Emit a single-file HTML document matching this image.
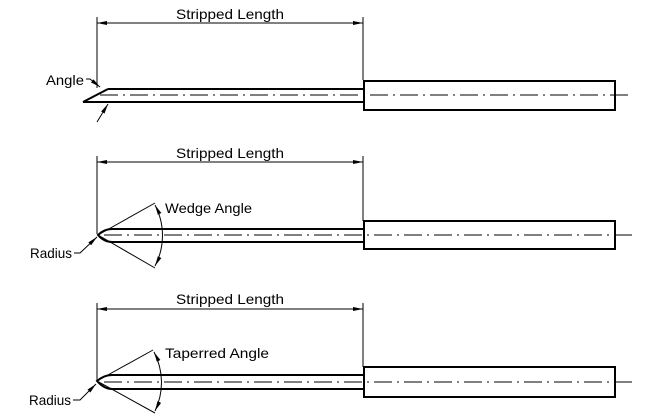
<!DOCTYPE html>
<html><head><style>
html,body{margin:0;padding:0;background:#fff;}
svg{display:block;}
text{font-family:"Liberation Sans",sans-serif;font-size:14px;fill:#000;}
</style></head><body>
<svg width="663" height="418" viewBox="0 0 663 418" xmlns="http://www.w3.org/2000/svg">
<defs>
<marker id="a" viewBox="0 0 10 6" refX="10" refY="3" markerWidth="10" markerHeight="6" orient="auto-start-reverse" markerUnits="userSpaceOnUse"><path d="M0,1 L10,3 L0,5Z" fill="#000"/></marker>
</defs>
<g stroke="#000" fill="none">
<!-- Panel 1 -->
<line x1="97" y1="17" x2="97" y2="88" stroke-width="1"/>
<line x1="363" y1="17" x2="363" y2="80" stroke-width="1"/>
<line x1="97" y1="23" x2="363" y2="23" stroke-width="1" marker-start="url(#a)" marker-end="url(#a)"/>
<line x1="108" y1="89" x2="363" y2="89" stroke-width="2"/>
<line x1="83" y1="102" x2="363" y2="102" stroke-width="2"/>
<line x1="83" y1="102" x2="108" y2="89" stroke-width="2"/>
<rect x="364" y="81" width="251" height="29" stroke-width="2"/>
<line x1="100" y1="95" x2="632" y2="95" stroke-width="1" stroke-dasharray="18 5 2 5"/>
<polyline points="86,79 90,79 100,87" stroke-width="1" marker-end="url(#a)"/>
<line x1="97" y1="122" x2="108" y2="104" stroke-width="1" marker-end="url(#a)"/>
<!-- Panel 2 -->
<line x1="97" y1="156" x2="97" y2="234" stroke-width="1"/>
<line x1="363" y1="156" x2="363" y2="221" stroke-width="1"/>
<line x1="97" y1="162" x2="363" y2="162" stroke-width="1" marker-start="url(#a)" marker-end="url(#a)"/>
<path d="M363,229 L112,229 Q104,229 98,235 Q104,242 112,242 L363,242" stroke-width="2"/>
<rect x="364" y="221" width="251" height="28" stroke-width="2"/>
<line x1="104" y1="235" x2="632" y2="235" stroke-width="1" stroke-dasharray="18 5 2 5"/>
<line x1="98" y1="235" x2="155" y2="203" stroke-width="1"/>
<line x1="98" y1="235" x2="155" y2="268" stroke-width="1"/>
<path d="M155,205 A66,66 0 0 1 155,266" stroke-width="1" marker-start="url(#a)" marker-end="url(#a)"/>
<polyline points="74,253 80,253 97,237" stroke-width="1" marker-end="url(#a)"/>
<!-- Panel 3 -->
<line x1="97" y1="303" x2="97" y2="381" stroke-width="1"/>
<line x1="363" y1="303" x2="363" y2="367" stroke-width="1"/>
<line x1="97" y1="309" x2="363" y2="309" stroke-width="1" marker-start="url(#a)" marker-end="url(#a)"/>
<path d="M363,375 L112,375 Q104,375 97,381 Q104,389 112,389 L363,389" stroke-width="2"/>
<rect x="364" y="367" width="251" height="30" stroke-width="2"/>
<line x1="104" y1="382" x2="632" y2="382" stroke-width="1" stroke-dasharray="18 5 2 5"/>
<line x1="97" y1="381" x2="153" y2="350" stroke-width="1"/>
<line x1="97" y1="381" x2="155" y2="413" stroke-width="1"/>
<path d="M154,352 A66,66 0 0 1 155,411" stroke-width="1" marker-start="url(#a)" marker-end="url(#a)"/>
<polyline points="73,400 80,400 96,384" stroke-width="1" marker-end="url(#a)"/>
</g>
<text x="176" y="19" textLength="108" lengthAdjust="spacingAndGlyphs">Stripped Length</text>
<text x="176" y="158" textLength="108" lengthAdjust="spacingAndGlyphs">Stripped Length</text>
<text x="176" y="304" textLength="108" lengthAdjust="spacingAndGlyphs">Stripped Length</text>
<text x="46" y="85" textLength="38" lengthAdjust="spacingAndGlyphs">Angle</text>
<text x="165" y="213" textLength="87" lengthAdjust="spacingAndGlyphs">Wedge Angle</text>
<text x="30" y="258" textLength="42" lengthAdjust="spacingAndGlyphs">Radius</text>
<text x="165" y="358" textLength="104" lengthAdjust="spacingAndGlyphs">Taperred Angle</text>
<text x="29" y="405" textLength="42" lengthAdjust="spacingAndGlyphs">Radius</text>
</svg>
</body></html>
